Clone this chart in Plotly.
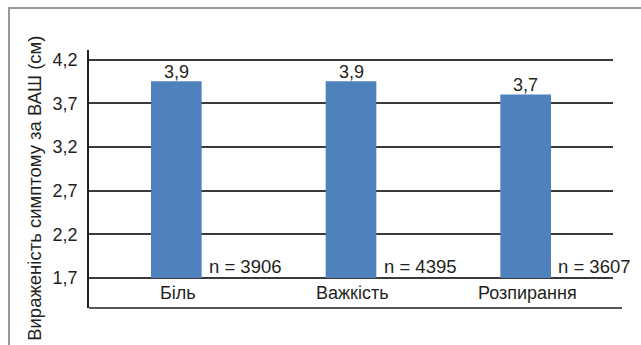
import plotly.graph_objects as go

categories = ["Біль", "Важкість", "Розпирання"]
values = [3.95, 3.95, 3.80]
value_labels = ["3,9", "3,9", "3,7"]
n_labels = ["n = 3906", "n = 4395", "n = 3607"]
tick_vals = [1.7, 2.2, 2.7, 3.2, 3.7, 4.2]
tick_text = ["1,7", "2,2", "2,7", "3,2", "3,7", "4,2"]
baseline = 1.7
y_title = "Вираженість симптому за ВАШ (см)"

FONT = "Liberation Sans"
TXT = "#231f20"
BAR = "#4f81bd"

xs = list(range(len(categories)))
fig = go.Figure()
fig.add_trace(go.Bar(
    x=xs, y=[v - baseline for v in values], base=baseline,
    width=0.29, marker=dict(color=BAR, line=dict(width=0)),
    hoverinfo="skip", showlegend=False,
))

ann = []
for i in xs:
    ann.append(dict(x=i, y=values[i], xref="x", yref="y", text=value_labels[i],
                    showarrow=False, xanchor="center", yanchor="bottom", yshift=-3,
                    font=dict(size=18, color=TXT, family=FONT)))
    ann.append(dict(x=i + 0.175, y=baseline, xref="x", yref="y", text=n_labels[i],
                    showarrow=False, xanchor="left", yanchor="bottom", yshift=-1,
                    font=dict(size=18.5, color=TXT, family=FONT)))
    ann.append(dict(x=i + 0.01, y=1.525, xref="x", yref="y", text=categories[i],
                    showarrow=False, xanchor="center", yanchor="middle",
                    font=dict(size=18, color=TXT, family=FONT)))
ann.append(dict(x=-0.103, y=0.462, xref="paper", yref="paper", text=y_title,
                textangle=-90, showarrow=False, xanchor="center", yanchor="middle",
                font=dict(size=18.5, color=TXT, family=FONT)))

L, R, T, B = 89, 28, 50, 37.3
pw = 641 - L - R
ph = 345 - T - B
shapes = [
    # outer frame
    dict(type="rect", xref="paper", yref="paper",
         x0=(9 - L) / pw, x1=(660 - L) / pw, y0=(345 - B - 360) / ph, y1=(345 - B - 8) / ph,
         line=dict(color="#9a9a9a", width=2), fillcolor="rgba(0,0,0,0)", layer="below"),
    # bottom axis line
    dict(type="line", xref="paper", yref="paper", x0=0, x1=(622 - L) / pw, y0=0, y1=0,
         line=dict(color="#231f20", width=1.5)),
]

fig.update_layout(
    width=641, height=345,
    margin=dict(l=L, r=R, t=T, b=B),
    paper_bgcolor="white", plot_bgcolor="white",
    annotations=ann, shapes=shapes,
    bargap=0.71,
    xaxis=dict(range=[-0.5, 2.5], showticklabels=False, showgrid=False, zeroline=False,
               showline=False, fixedrange=True),
    yaxis=dict(range=[1.3563, 4.3088], tickvals=tick_vals, ticktext=tick_text,
               showgrid=True, gridcolor="#3a3a3a", gridwidth=1.5, zeroline=False,
               showline=True, linecolor="#231f20", linewidth=1.5,
               ticks="", ticklabelstandoff=6,
               tickfont=dict(size=18, color=TXT, family=FONT), fixedrange=True),
)

fig.write_html("out.html")
